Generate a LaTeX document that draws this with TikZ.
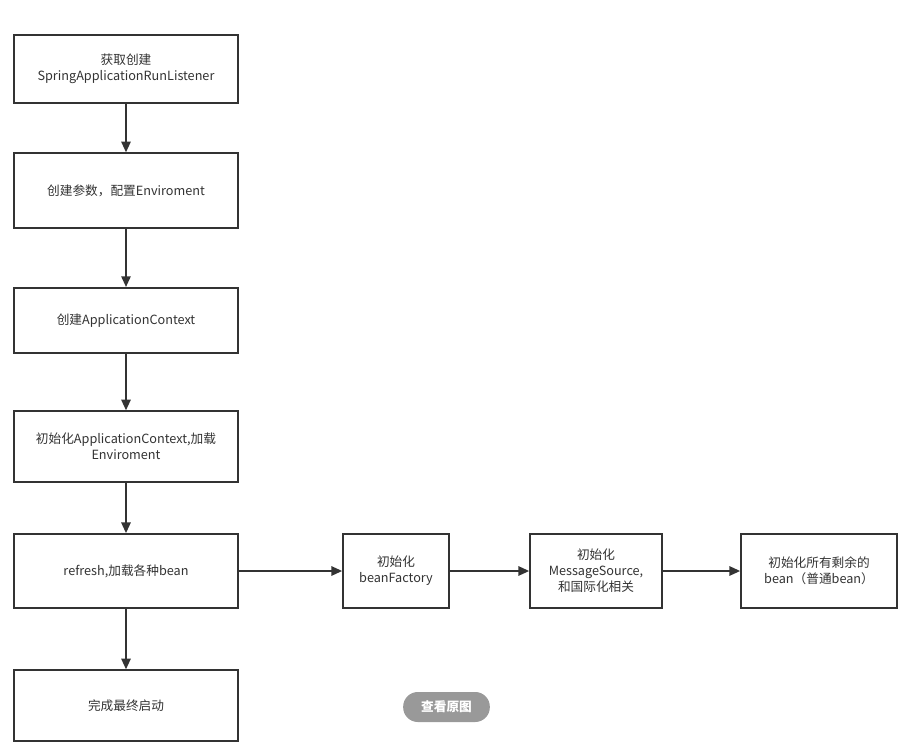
\documentclass[tikz,border=0pt]{standalone}
\usepackage{fontspec}
\setmainfont{Noto Sans CJK SC}
\usetikzlibrary{arrows.meta}
\definecolor{ln}{HTML}{333333}
\definecolor{tx}{HTML}{333333}
\definecolor{btn}{HTML}{999999}
\begin{document}
\begin{tikzpicture}[x=0.75pt,y=-0.75pt,
  box/.style={draw=ln,line width=1.3pt,fill=white,text=tx,font=\fontsize{9.5pt}{12pt}\selectfont,align=center,inner sep=0pt},
  conn/.style={draw=ln,line width=1.3pt,-{Triangle[length=8pt,width=7pt]}}]
\useasboundingbox (0,0) rectangle (903,746);
\fill[white] (0,0) rectangle (903,746);
\node[box,minimum width=168pt,minimum height=51pt] (b1) at (126,69) {获取创建\\SpringApplicationRunListener};
\node[box,minimum width=168pt,minimum height=56pt] (b2) at (126,190.5) {创建参数，配置Enviroment};
\node[box,minimum width=168pt,minimum height=49pt] (b3) at (126,320.5) {创建ApplicationContext};
\node[box,minimum width=168pt,minimum height=53pt] (b4) at (126,446.5) {初始化ApplicationContext,加载\\Enviroment};
\node[box,minimum width=168pt,minimum height=55.5pt] (b5) at (126,571) {refresh,加载各种bean};
\node[box,minimum width=168pt,minimum height=53pt] (b6) at (126,705.5) {完成最终启动};
\node[box,minimum width=79.5pt,minimum height=55.5pt] (b7) at (396,571) {初始化\\beanFactory};
\node[box,minimum width=99pt,minimum height=55.5pt] (b8) at (596,571) {初始化\\MessageSource,\\和国际化相关};
\node[box,minimum width=117pt,minimum height=55.5pt] (b9) at (819,571) {初始化所有剩余的\\bean（普通bean）};
\draw[conn] (b1) -- (b2);
\draw[conn] (b2) -- (b3);
\draw[conn] (b3) -- (b4);
\draw[conn] (b4) -- (b5);
\draw[conn] (b5) -- (b6);
\draw[conn] (b5) -- (b7);
\draw[conn] (b7) -- (b8);
\draw[conn] (b8) -- (b9);
\node[fill=btn,rounded corners=11pt,minimum width=65pt,minimum height=22.5pt,text=white,font=\fontsize{9.5pt}{12pt}\selectfont\bfseries,inner sep=0pt] (btn) at (446.5,707) {查看原图};
\end{tikzpicture}
\end{document}
